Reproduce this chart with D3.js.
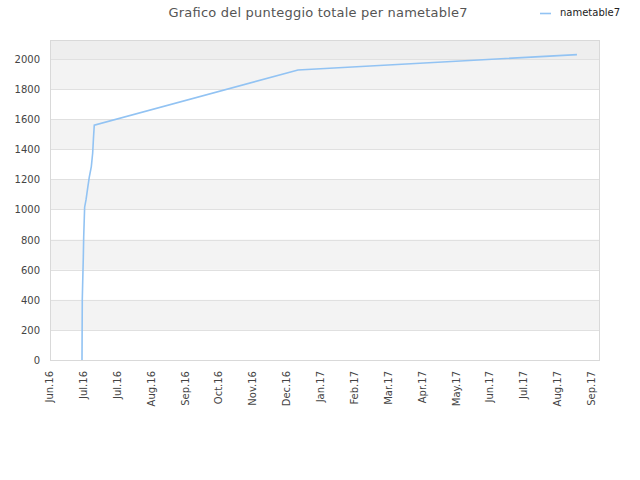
<html>
<head>
<meta charset="UTF-8">
<title>Grafico del punteggio totale per nametable7</title>
<style>
  body { margin: 0; background: #fff; }
  text { font-family: "DejaVu Sans", sans-serif; }
</style>
</head>
<body>
<svg id="chart"></svg>
<script src="https://d3js.org/d3.v7.min.js"></script>
<script>
// data
const dates = ["2016-06-29T08:00", "2016-06-29T14:00", "2016-06-30T12:00", "2016-06-30T20:00",
  "2016-07-01T16:00", "2016-07-02T22:00", "2016-07-04T10:00", "2016-07-05T19:00",
  "2016-07-07T14:00", "2016-07-08T19:00", "2016-07-09T12:00", "2016-07-10T05:00",
  "2017-01-06T14:00", "2017-09-10T14:00"];
const scores = [0, 400, 685, 815, 1015, 1065, 1145, 1215, 1285, 1375, 1475, 1560, 1927, 2029];
const yTicks = [0, 200, 400, 600, 800, 1000, 1200, 1400, 1600, 1800, 2000];
const seriesName = "nametable7";
const titleText = "Grafico del punteggio totale per nametable7";
const monthNames = ["Jan", "Feb", "Mar", "Apr", "May", "Jun", "Jul", "Aug", "Sep", "Oct", "Nov", "Dec"];

let width = 640, height = 480;
let svg = d3.select("#chart").attr("width", width).attr("height", height);

const mLeft = 50, mRight = 600, mTop = 40, mBottom = 360;

const parse = d3.timeParse("%Y-%m-%dT%H:%M");
let data = dates.map((d, i) => ({ date: parse(d), value: scores[i] }));

let x = d3.scaleTime()
  .domain([new Date(2016, 5, 1), new Date(2017, 9, 1)])
  .range([mLeft, mRight]);
let y = d3.scaleLinear()
  .domain([0, 2126])
  .range([mBottom, mTop]);

// background bands
svg.append("rect")
  .attr("x", mLeft).attr("y", mTop)
  .attr("width", mRight - mLeft).attr("height", y(2000) - mTop)
  .attr("fill", "#eeeeee");
for (let i = 0; i < yTicks.length - 1; i++) {
  if (i % 2 == 1) {
    svg.append("rect")
      .attr("x", mLeft).attr("y", y(yTicks[i + 1]))
      .attr("width", mRight - mLeft).attr("height", y(yTicks[i]) - y(yTicks[i + 1]))
      .attr("fill", "#f3f3f3");
  }
}

// grid
svg.append("g").selectAll("line")
  .data(yTicks.slice(1))
  .enter().append("line")
  .attr("x1", mLeft).attr("x2", mRight)
  .attr("y1", d => Math.round(y(d)) + 0.5).attr("y2", d => Math.round(y(d)) + 0.5)
  .attr("stroke", "#e0e0e0");

// frame
svg.append("rect")
  .attr("x", mLeft + 0.5).attr("y", mTop + 0.5)
  .attr("width", mRight - mLeft - 1).attr("height", mBottom - mTop)
  .attr("fill", "none")
  .attr("stroke", "#d9d9d9");

// y labels
svg.append("g").selectAll("text")
  .data(yTicks)
  .enter().append("text")
  .attr("x", 40)
  .attr("y", d => y(d) + 4)
  .attr("text-anchor", "end")
  .attr("font-size", "10px")
  .attr("fill", "#444")
  .text(d => d);

// x labels every 30 days
let xTicks = [];
for (let t = x.domain()[0]; t <= x.domain()[1]; t = d3.timeDay.offset(t, 30)) xTicks.push(t);
const fmt = d => monthNames[d.getMonth()] + "." + String(d.getFullYear()).slice(2);
svg.append("g").selectAll("text")
  .data(xTicks)
  .enter().append("text")
  .attr("transform", d => `translate(${x(d) + 3},371) rotate(-90)`)
  .attr("text-anchor", "end")
  .attr("font-size", "10px")
  .attr("fill", "#444")
  .text(fmt);

// line
let line = d3.line().x(d => x(d.date)).y(d => y(d.value));
svg.append("path")
  .datum(data)
  .attr("d", line)
  .attr("fill", "none")
  .attr("stroke", "#92c3f3")
  .attr("stroke-width", 1.6);

// title
svg.append("text")
  .attr("x", 318).attr("y", 17)
  .attr("text-anchor", "middle")
  .attr("font-size", "13px")
  .attr("fill", "#555")
  .attr("textLength", 299)
  .text(titleText);

// legend
svg.append("line")
  .attr("x1", 540).attr("x2", 551)
  .attr("y1", 13.5).attr("y2", 13.5)
  .attr("stroke", "#92c3f3")
  .attr("stroke-width", 1.6);
svg.append("text")
  .attr("x", 560).attr("y", 16)
  .attr("font-size", "10px")
  .attr("fill", "#222")
  .text(seriesName);
</script>
</body>
</html>
